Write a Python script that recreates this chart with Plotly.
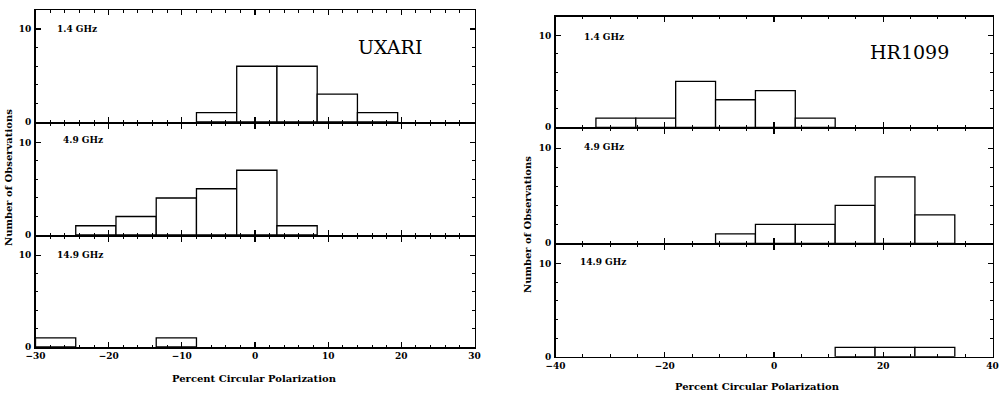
import plotly.graph_objects as go

# ---------------- data ----------------
# UX Ari (left), bins of 5.5 %
ux_bin_width = 5.5
ux_14_left = [-8.0, -2.5, 3.0, 8.5, 14.0]
ux_14_counts = [1, 6, 6, 3, 1]
ux_49_left = [-24.5, -19.0, -13.5, -8.0, -2.5, 3.0]
ux_49_counts = [1, 2, 4, 5, 7, 1]
ux_149_left = [-30.0, -13.5]
ux_149_counts = [1, 1]

# HR 1099 (right), bins of 7.3 %
hr_bin_width = 7.3
hr_14_left = [-32.6, -25.3, -18.0, -10.7, -3.4, 3.9]
hr_14_counts = [1, 1, 5, 3, 4, 1]
hr_49_left = [-10.7, -3.4, 3.9, 11.2, 18.5, 25.8]
hr_49_counts = [1, 2, 2, 4, 7, 3]
hr_149_left = [11.2, 18.5, 25.8]
hr_149_counts = [1, 1, 1]

freq_labels = ["1.4 GHz", "4.9 GHz", "14.9 GHz"]
star_names = ["UXARI", "HR1099"]
x_title = "Percent Circular Polarization"
y_title = "Number of Observations"

# ---------------- layout geometry ----------------
W, H = 1001, 393
FONT = "DejaVu Serif"
LW = 1.5


def px(x):
    return x / W


def py(y):
    return 1 - y / H


left_x = [35.5, 474.5]
right_x = [555.5, 992.5]
# (top, bottom) in pixels; lower panels start LW lower so shared lines coincide
left_rows = [(10, 122), (122 + LW, 235), (235 + LW, 347)]
right_rows = [(16.7, 127.3), (127.3 + LW, 243.3), (243.3 + LW, 356.7)]

panels = [
    (ux_14_left, ux_14_counts, ux_bin_width, left_x, left_rows[0], [-30, 30], 10, 2, False),
    (ux_49_left, ux_49_counts, ux_bin_width, left_x, left_rows[1], [-30, 30], 10, 2, False),
    (ux_149_left, ux_149_counts, ux_bin_width, left_x, left_rows[2], [-30, 30], 10, 2, True),
    (hr_14_left, hr_14_counts, hr_bin_width, right_x, right_rows[0], [-40, 40], 20, 5, False),
    (hr_49_left, hr_49_counts, hr_bin_width, right_x, right_rows[1], [-40, 40], 20, 5, False),
    (hr_149_left, hr_149_counts, hr_bin_width, right_x, right_rows[2], [-40, 40], 20, 5, True),
]

fig = go.Figure()
layout = dict(
    width=W, height=H, autosize=False,
    margin=dict(l=0, r=0, t=0, b=0, pad=0),
    plot_bgcolor="white", paper_bgcolor="white",
    showlegend=False,
    font=dict(family=FONT, color="black"),
)

tickfont = dict(family=FONT, size=9, color="black", weight="bold")

for i, (lefts, counts, w, xdom, row, xr, dt, mdt, labels) in enumerate(panels, start=1):
    sfx = "" if i == 1 else str(i)
    fig.add_trace(go.Bar(
        x=[l + w / 2 for l in lefts], y=counts, width=w,
        marker=dict(color="white", line=dict(color="black", width=1.3)),
        xaxis="x" + sfx, yaxis="y" + sfx, hoverinfo="skip",
    ))
    layout["xaxis" + sfx] = dict(
        domain=[px(xdom[0]), px(xdom[1])], anchor="y" + sfx,
        range=xr, tick0=0, dtick=dt,
        showline=True, linecolor="black", linewidth=LW, mirror="allticks",
        ticks="inside", ticklen=5, tickwidth=1.3, tickcolor="black",
        minor=dict(dtick=mdt, tick0=0, ticks="inside", ticklen=2.5, tickwidth=1, tickcolor="black"),
        showgrid=False, zeroline=False, automargin=False,
        showticklabels=labels, tickfont=tickfont, ticklabelstandoff=0,
        ticklabeloverflow="allow",
        fixedrange=True,
    )
    layout["yaxis" + sfx] = dict(
        domain=[py(row[1]), py(row[0])], anchor="x" + sfx,
        range=[0, 12.05], tick0=0, dtick=10,
        showline=True, linecolor="black", linewidth=LW, mirror="allticks",
        ticks="inside", ticklen=5, tickwidth=1.3, tickcolor="black",
        minor=dict(dtick=2, tick0=0, ticks="inside", ticklen=2.5, tickwidth=1, tickcolor="black"),
        showgrid=False, zeroline=False, automargin=False,
        showticklabels=True, tickfont=tickfont, ticklabelstandoff=1,
        ticklabeloverflow="allow",
        fixedrange=True,
    )

ann = []
small = dict(family=FONT, size=9, color="black", weight="bold")
left_lab_pos = [(55, 29), (61, 140), (55, 255)]
right_lab_pos = [(582, 37), (582, 147), (578, 262)]
for lab, (x, y) in zip(freq_labels, left_lab_pos):
    ann.append(dict(text=lab, x=px(x), y=py(y), xref="paper", yref="paper",
                    xanchor="left", yanchor="middle", showarrow=False, font=small))
for lab, (x, y) in zip(freq_labels, right_lab_pos):
    ann.append(dict(text=lab, x=px(x), y=py(y), xref="paper", yref="paper",
                    xanchor="left", yanchor="middle", showarrow=False, font=small))

big = dict(family=FONT, size=19, color="black")
for name, (x, y) in zip(star_names, [(390, 47), (909, 52)]):
    ann.append(dict(text=name, x=px(x), y=py(y), xref="paper", yref="paper",
                    xanchor="center", yanchor="middle", showarrow=False, font=big))

title_font = dict(family=FONT, size=10, color="black", weight="bold")
for (x, y) in [(254, 378), (757, 386)]:
    ann.append(dict(text=x_title, x=px(x), y=py(y), xref="paper", yref="paper",
                    xanchor="center", yanchor="middle", showarrow=False, font=title_font))
for (x, y) in [(9, 178), (528, 225)]:
    ann.append(dict(text=y_title, x=px(x), y=py(y), xref="paper", yref="paper",
                    xanchor="center", yanchor="middle", showarrow=False, textangle=-90,
                    font=title_font))

layout["annotations"] = ann
fig.update_layout(**layout)
fig.write_html("out.html", config={"displayModeBar": False, "staticPlot": True},
               post_script="document.body.style.margin='0px';")
